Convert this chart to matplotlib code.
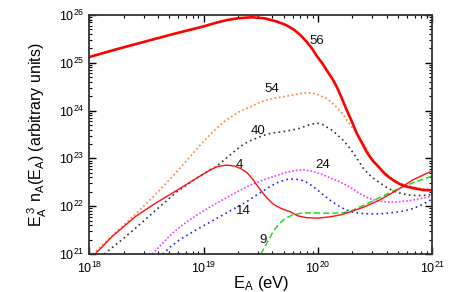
import numpy as np
import matplotlib.pyplot as plt

plt.rcParams['font.family'] = ['Liberation Sans', 'DejaVu Sans']
plt.rcParams['mathtext.fontset'] = 'custom'
plt.rcParams['mathtext.rm'] = 'Liberation Sans'
plt.rcParams['mathtext.it'] = 'Liberation Sans'

# log10(E_A / eV) and log10(E_A^3 n_A), one pair per curve
x56 = [18.0, 18.25, 18.5, 18.75, 19.0, 19.1, 19.2, 19.3, 19.42, 19.53, 19.64, 19.72, 19.79,
       19.85, 19.90, 19.95, 19.99, 20.04, 20.08, 20.13, 20.17, 20.21, 20.25, 20.30, 20.34,
       20.39, 20.43, 20.48, 20.54, 20.58, 20.62, 20.66, 20.71, 20.76, 20.83, 20.92, 21.0]
y56 = [25.12, 25.29, 25.45, 25.61, 25.76, 25.83, 25.89, 25.93, 25.95, 25.93, 25.86, 25.79,
       25.69, 25.57, 25.44, 25.29, 25.14, 24.98, 24.83, 24.65, 24.47, 24.25, 24.02, 23.75,
       23.52, 23.3, 23.12, 22.95, 22.80, 22.69, 22.61, 22.54, 22.47, 22.42, 22.38, 22.34, 22.33]

x54 = [18.03, 18.15, 18.25, 18.38, 18.5, 18.62, 18.75, 18.86, 18.97, 19.04, 19.11, 19.18,
       19.26, 19.33, 19.41, 19.48, 19.55, 19.62, 19.70, 19.81, 19.88, 19.93, 19.98, 20.02,
       20.07, 20.11, 20.15, 20.18, 20.22, 20.25, 20.28, 20.31, 20.34, 20.37, 20.40, 20.43,
       20.46, 20.49, 20.54, 20.58, 20.62, 20.66, 20.71, 20.76, 20.83, 20.92, 21.0]
y54 = [21.0, 21.27, 21.5, 21.78, 22.06, 22.35, 22.68, 22.98, 23.28, 23.46, 23.62, 23.77,
       23.9, 24.0, 24.08, 24.16, 24.22, 24.26, 24.29, 24.34, 24.37, 24.37, 24.35, 24.31,
       24.26, 24.19, 24.1, 24.02, 23.92, 23.81, 23.71, 23.61, 23.51, 23.41, 23.29, 23.17,
       23.04, 22.94, 22.81, 22.71, 22.63, 22.56, 22.49, 22.44, 22.40, 22.36, 22.35]

x40 = [18.13, 18.3, 18.46, 18.62, 18.77, 18.92, 19.05, 19.11, 19.17, 19.23, 19.29, 19.35,
       19.41, 19.46, 19.52, 19.6, 19.70, 19.77, 19.84, 19.92, 19.99, 20.04, 20.08, 20.13,
       20.17, 20.22, 20.27, 20.31, 20.36, 20.40, 20.47, 20.54, 20.61, 20.69, 20.78, 20.87, 21.0]
y40 = [21.0, 21.33, 21.66, 22.0, 22.31, 22.56, 22.75, 22.83, 22.95, 23.07, 23.19, 23.30,
       23.37, 23.42, 23.48, 23.53, 23.56, 23.59, 23.63, 23.70, 23.74, 23.71, 23.65, 23.58,
       23.49, 23.38, 23.24, 23.11, 22.93, 22.78, 22.61, 22.49, 22.38, 22.29, 22.24, 22.22, 22.24]

x4 = [18.05, 18.2, 18.4, 18.57, 18.75, 18.92, 19.05, 19.12, 19.2, 19.27, 19.33, 19.38, 19.43,
      19.49, 19.55, 19.61, 19.68, 19.76, 19.82, 19.9, 20.0, 20.11, 20.2, 20.28, 20.4, 20.54,
      20.68, 20.83, 21.0]
y4 = [21.0, 21.37, 21.78, 22.05, 22.31, 22.56, 22.75, 22.83, 22.86, 22.84, 22.78, 22.70, 22.56,
      22.36, 22.18, 22.04, 21.95, 21.88, 21.80, 21.76, 21.75, 21.78, 21.82, 21.88, 21.98, 22.13,
      22.32, 22.55, 22.74]

x24 = [18.55, 18.63, 18.72, 18.81, 18.95, 19.08, 19.23, 19.38, 19.5, 19.61, 19.71, 19.81,
       19.88, 19.95, 20.03, 20.11, 20.18, 20.25, 20.31, 20.37, 20.44, 20.52, 20.6, 20.7,
       20.81, 20.9, 21.0]
y24 = [21.0, 21.2, 21.42, 21.6, 21.83, 22.02, 22.22, 22.41, 22.53, 22.62, 22.7, 22.75,
       22.76, 22.73, 22.67, 22.59, 22.52, 22.44, 22.35, 22.26, 22.17, 22.11, 22.09, 22.09,
       22.12, 22.16, 22.21]

x14 = [18.64, 18.71, 18.79, 18.93, 19.08, 19.23, 19.38, 19.48, 19.58, 19.66, 19.73, 19.79,
       19.85, 19.90, 19.96, 20.03, 20.11, 20.17, 20.23, 20.3, 20.37, 20.46, 20.55, 20.67,
       20.75, 20.83, 20.92, 21.0]
y14 = [21.0, 21.15, 21.30, 21.5, 21.70, 21.9, 22.1, 22.26, 22.41, 22.51, 22.56, 22.57,
       22.55, 22.50, 22.41, 22.27, 22.12, 22.02, 21.94, 21.88, 21.85, 21.84, 21.84, 21.87,
       21.9, 21.95, 22.04, 22.15]

x9 = [19.50, 19.53, 19.57, 19.61, 19.66, 19.71, 19.78, 19.87, 19.97, 20.11, 20.2, 20.28,
      20.4, 20.54, 20.68, 20.83, 21.0]
y9 = [21.0, 21.13, 21.3, 21.48, 21.63, 21.74, 21.82, 21.86, 21.86, 21.85, 21.86, 21.89,
      22.02, 22.18, 22.34, 22.49, 22.63]

# curve labels (mass number A) and where they sit, in log10 units
labels = ['56', '54', '40', '4', '24', '14', '9']
label_x = [19.99, 19.6, 19.48, 19.31, 20.04, 19.35, 19.52]
label_y = [25.45, 24.46, 23.58, 22.86, 22.86, 21.9, 21.29]


def p(v):
    return np.power(10.0, v)


fig = plt.figure(figsize=(4.54, 2.92), dpi=100)
ax = fig.add_axes([0.197, 0.130, 0.755, 0.819])

ax.plot(p(x54), p(y54), color='#ff7f3f', lw=1.2, ls=(0, (1, 1.6)))
ax.plot(p(x40), p(y40), color='#333333', lw=1.2, ls=(0, (1, 2)))
ax.plot(p(x24), p(y24), color='#ff33ff', lw=1.2, ls=(0, (1, 1.2)))
ax.plot(p(x14), p(y14), color='#2222ff', lw=1.2, ls=(0, (1, 2)))
ax.plot(p(x9), p(y9), color='#22dd22', lw=1.1, ls=(0, (4, 2)))
ax.plot(p(x4), p(y4), color='#ff1111', lw=1.0)
ax.plot(p(x56), p(y56), color='#ff0000', lw=1.9)

for t, lx, ly in zip(labels, label_x, label_y):
    ax.text(p(lx), p(ly), t, fontsize=9.5, ha='center', va='center', color='#111111')

ax.set_xscale('log')
ax.set_yscale('log')
ax.set_xlim(1e18, 1e21)
ax.set_ylim(1e21, 1e26)

ax.tick_params(which='both', direction='in', top=True, right=True, labelsize=9)
ax.tick_params(which='major', length=5, width=1)
ax.tick_params(which='minor', length=2.5, width=0.8)
ax.tick_params(axis='x', pad=5)
for s in ax.spines.values():
    s.set_linewidth(1.3)
    s.set_color('#333333')

ax.set_xlabel(r'$\mathregular{E_A}$ (eV)', fontsize=12)
ax.xaxis.set_label_coords(0.5, -0.085)
ax.set_ylabel(r'$\mathregular{E_A^{\ 3}\ n_A(E_A)}$ (arbitrary units)', fontsize=11.5)
ax.yaxis.set_label_coords(-0.118, 0.5)

fig.savefig('out.png', dpi=100)
